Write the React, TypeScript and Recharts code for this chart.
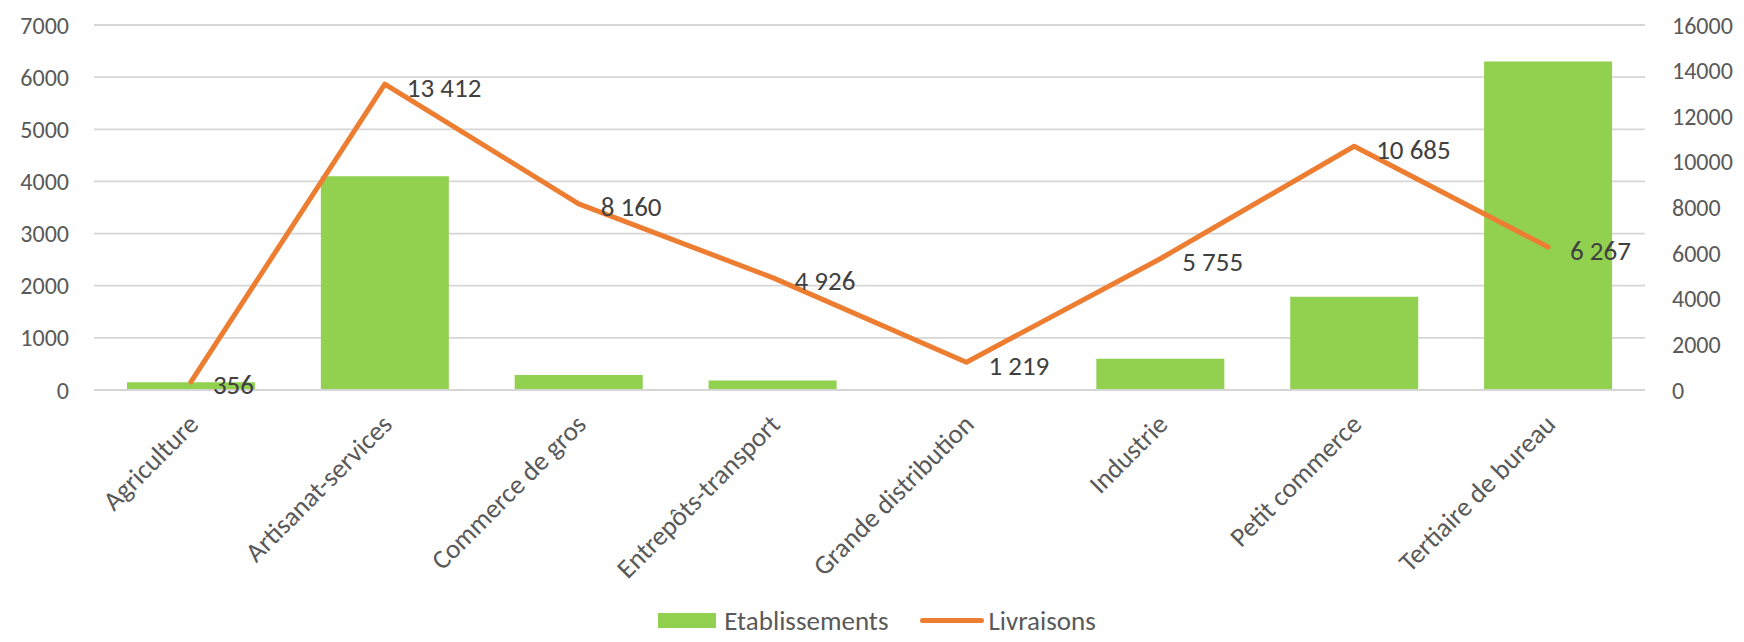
import { ComposedChart, Bar, Line, XAxis, YAxis, CartesianGrid, Legend, LabelList } from 'recharts';

const categories = ['Agriculture', 'Artisanat-services', 'Commerce de gros', 'Entrepôts-transport', 'Grande distribution', 'Industrie', 'Petit commerce', 'Tertiaire de bureau'];
const etablissements = [150, 4100, 290, 180, 0, 600, 1790, 6300];
const livraisons = [356, 13412, 8160, 4926, 1219, 5755, 10685, 6267];
const leftTicks = [0, 1000, 2000, 3000, 4000, 5000, 6000, 7000];
const rightTicks = [0, 2000, 4000, 6000, 8000, 10000, 12000, 14000, 16000];

const data = categories.map((name, i) => ({ name, etablissements: etablissements[i], livraisons: livraisons[i] }));

const FONT = 'Carlito, Calibri, Lato, sans-serif';
const GREEN = '#92d050';
const ORANGE = '#ed7d31';

// 13412 -> "13 412"
const fmt = (v: number) => String(v).replace(/\B(?=(\d{3})+(?!\d))/g, ' ');

function CategoryTick(props: any) {
    const { x, y, payload } = props;
    const ax = x + 9;
    const ay = y + 28;
    return (
        <text x={ax} y={ay} transform={`rotate(-45 ${ax} ${ay})`} textAnchor="end" fontSize={27} fill="#595959" fontFamily={FONT}>
            {payload.value}
        </text>
    );
}

function PointLabel(props: any) {
    const { x, y, value } = props;
    return (
        <text x={x + 22} y={y + 3} dominantBaseline="central" fontSize={27} fill="#404040" fontFamily={FONT}>
            {fmt(value)}
        </text>
    );
}

function LegendBox() {
    return (
        <div style={{ height: 44, display: 'flex', alignItems: 'center', justifyContent: 'center', fontFamily: FONT, fontSize: 27, color: '#595959', paddingLeft: 10 }}>
            <span style={{ display: 'inline-block', width: 58, height: 15, background: GREEN, marginRight: 8 }} />
            <span style={{ marginRight: 32 }}>Etablissements</span>
            <span style={{ display: 'inline-block', width: 64, height: 5, borderRadius: 3, background: ORANGE, marginRight: 4 }} />
            <span>Livraisons</span>
        </div>
    );
}

export default function App() {
    return (
        <div style={{ position: 'absolute', left: 0, top: 0, width: 1744, height: 642, background: '#fff' }}>
            <ComposedChart width={1744} height={642} data={data} margin={{ top: 25, right: 0, bottom: 0, left: 0 }} barCategoryGap="17%">
                <CartesianGrid yAxisId="left" vertical={false} stroke="#d6d6d6" strokeWidth={1.8} />
                <XAxis dataKey="name" height={208} interval={0} tick={<CategoryTick />} tickLine={false} axisLine={{ stroke: '#d6d6d6', strokeWidth: 1.8 }} />
                <YAxis yAxisId="left" width={94} domain={[0, 7000]} ticks={leftTicks} interval={0} axisLine={false} tickLine={false} tickSize={0} tickMargin={25}
                    tick={{ fontSize: 24, fill: '#595959', fontFamily: FONT }} />
                <YAxis yAxisId="right" orientation="right" width={99} domain={[0, 16000]} ticks={rightTicks} interval={0} axisLine={false} tickLine={false} tickSize={0} tickMargin={27}
                    tick={{ fontSize: 24, fill: '#595959', fontFamily: FONT, textAnchor: 'start' }} />
                <Bar yAxisId="left" dataKey="etablissements" name="Etablissements" fill={GREEN} isAnimationActive={false} />
                <Line yAxisId="right" dataKey="livraisons" name="Livraisons" stroke={ORANGE} strokeWidth={5} strokeLinecap="round" strokeLinejoin="round" dot={false} activeDot={false} isAnimationActive={false}>
                    <LabelList dataKey="livraisons" content={<PointLabel />} />
                </Line>
                <Legend verticalAlign="bottom" height={44} content={<LegendBox />} />
            </ComposedChart>
        </div>
    );
}
